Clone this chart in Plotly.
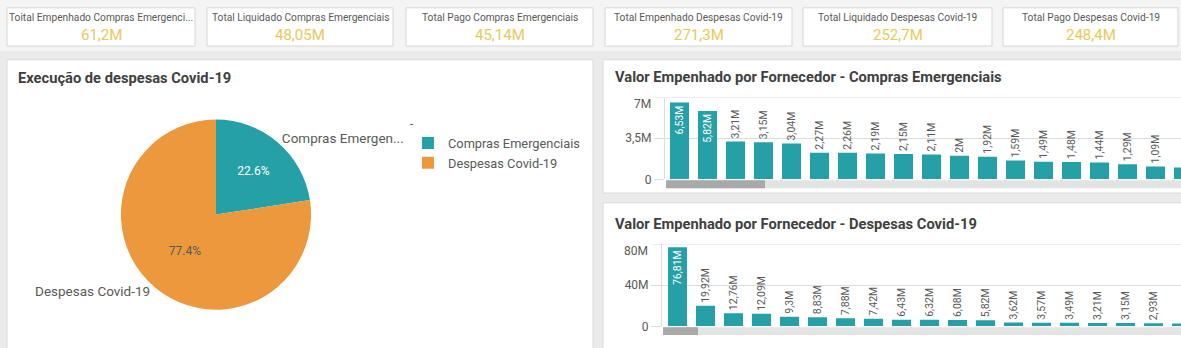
import plotly.graph_objects as go

W, H = 1181, 348

# ---- data -------------------------------------------------------------
kpi_titles = [
    "Toital Empenhado Compras Emergenci...",
    "Total Liquidado Compras Emergenciais",
    "Total Pago Compras Emergenciais",
    "Total Empenhado Despesas Covid-19",
    "Total Liquidado Despesas Covid-19",
    "Total Pago Despesas Covid-19",
]
kpi_values = ["61,2M", "48,05M", "45,14M", "271,3M", "252,7M", "248,4M"]

pie_labels = ["Compras Emergenciais", "Despesas Covid-19"]
pie_outside = ["Compras Emergen...", "Despesas Covid-19"]
pie_values = [61.2, 210.1]

# committed value per supplier (millions), ranked; the last bar of each
# chart runs off the right edge of the panel
compras_mi = [6.53, 5.82, 3.21, 3.15, 3.04, 2.27, 2.26, 2.19, 2.15, 2.11,
              2.0, 1.92, 1.59, 1.49, 1.48, 1.44, 1.29, 1.09, 1.0]
despesas_mi = [76.81, 19.92, 12.76, 12.09, 9.3, 8.83, 7.88, 7.42, 6.43, 6.32,
               6.08, 5.82, 3.62, 3.57, 3.49, 3.21, 3.15, 2.93, 2.71]
labelled_bars = 18

compras_ticks = [0, 3.5, 7]
despesas_ticks = [0, 40, 80]

# ---- style ------------------------------------------------------------
TEAL = "#26a0a7"
ORANGE = "#ec983d"
GOLD = "#e9c85e"
TXT = "#595959"
TITLE = "#404040"
GRID = "#dcdcdc"
FONT = "Roboto"


def fx(x):
    return x / W


def fy(y):
    return 1 - y / H


def fmt_m(v):
    s = f"{v:.2f}".rstrip("0").rstrip(".")
    return s.replace(".", ",") + "M"


def fmt_tick(v):
    s = f"{v:g}".replace(".", ",")
    return "0" if v == 0 else s + "M"


fig = go.Figure()
shapes = []
annotations = []

# sheet backgrounds
shapes.append(dict(type="rect", xref="paper", yref="paper", x0=0, x1=1,
                   y0=fy(52), y1=1, fillcolor="#f4f4f4", line_width=0, layer="below"))

# KPI cards
card_x = [(7, 195), (207, 393), (406, 593), (605, 792), (803, 992), (1003, 1178)]
for (x0, x1), t, v in zip(card_x, kpi_titles, kpi_values):
    shapes.append(dict(type="rect", xref="paper", yref="paper",
                       x0=fx(x0), x1=fx(x1), y0=fy(47), y1=fy(8),
                       fillcolor="white", line=dict(color="#d6d6d6", width=1), layer="below"))
    cx = fx((x0 + x1) / 2)
    annotations.append(dict(text=t, x=cx, y=fy(18), xref="paper", yref="paper",
                            showarrow=False, xanchor="center", yanchor="middle",
                            font=dict(family=FONT, size=10.2, color=TXT)))
    annotations.append(dict(text=v, x=cx, y=fy(35.5), xref="paper", yref="paper",
                            showarrow=False, xanchor="center", yanchor="middle",
                            font=dict(family=FONT, size=15, color=GOLD)))

# panels
panels = [(7, 593, 61, 360), (603, 1190, 61, 197), (603, 1190, 207, 360)]
for x0, x1, y0, y1 in panels:
    shapes.append(dict(type="rect", xref="paper", yref="paper",
                       x0=fx(x0), x1=fx(x1), y0=fy(y1), y1=fy(y0),
                       fillcolor="white", line=dict(color="#dadada", width=1), layer="below"))

titles = [
    ("Execução de despesas Covid-19", 16, 80),
    ("Valor Empenhado por Fornecedor - Compras Emergenciais", 613, 79),
    ("Valor Empenhado por Fornecedor - Despesas Covid-19", 613, 229),
]
for t, x, y in titles:
    annotations.append(dict(text=f"<b>{t}</b>", x=fx(x), y=fy(y), xref="paper", yref="paper",
                            showarrow=False, xanchor="left", yanchor="middle",
                            font=dict(family=FONT, size=14.7, color=TITLE)))

# ---- pie --------------------------------------------------------------
pie_dom = dict(x=[fx(119), fx(313)], y=[fy(316), fy(122)])
fig.add_trace(go.Pie(
    labels=pie_labels, values=pie_values, sort=False, direction="clockwise",
    rotation=0, domain=pie_dom, marker=dict(colors=[TEAL, ORANGE], line=dict(width=0)),
    texttemplate="%{percent:.1%}", textposition="inside",
    insidetextorientation="horizontal",
    textfont=dict(family=FONT, size=12, color=["white", TXT]),
    hoverinfo="label+percent", showlegend=True,
))
fig.add_trace(go.Pie(
    labels=pie_labels, values=pie_values, sort=False, direction="clockwise",
    rotation=0, domain=pie_dom,
    marker=dict(colors=["rgba(0,0,0,0)", "rgba(0,0,0,0)"], line=dict(width=0)),
    text=pie_outside, textinfo="text", textposition="outside",
    textfont=dict(family=FONT, size=13.5, color=TXT),
    hoverinfo="skip", showlegend=False,
))

# ---- bar charts -------------------------------------------------------
def bar_trace(vals_m, n_inside, xa, ya):
    vals = [v * 1e6 for v in vals_m]
    n = len(vals)
    pos = ["inside"] * n_inside + ["outside"] * (n - n_inside)
    colors = ["white"] * n_inside + [TXT] * (n - n_inside)
    text = [fmt_m(v) if i < labelled_bars else "" for i, v in enumerate(vals_m)]
    return go.Bar(
        x=list(range(n)), y=vals, text=text,
        textposition=pos, textangle=-90, insidetextanchor="end",
        constraintext="none", cliponaxis=True,
        textfont=dict(family=FONT, size=10.5, color=colors),
        marker=dict(color=TEAL, line=dict(width=0)),
        xaxis=xa, yaxis=ya, showlegend=False, hoverinfo="y",
    )


fig.add_trace(bar_trace(compras_mi, 2, "x", "y"))
fig.add_trace(bar_trace(despesas_mi, 1, "x2", "y2"))

step = 28.0
top_left, bot_left = 665, 662


def xrange(left, first_center):
    lo = -(first_center - left) / step
    return [lo, lo + (W - left) / step]


def yaxis_cfg(ticks, top, bottom):
    return dict(
        domain=[fy(bottom), fy(top)], range=[0, ticks[-1] * 1e6],
        tickvals=[t * 1e6 for t in ticks[:-1]],
        ticktext=[fmt_tick(t) for t in ticks[:-1]],
        showgrid=True, gridcolor=GRID, gridwidth=1,
        zeroline=False, showline=True, linecolor=GRID, linewidth=1,
        ticks="outside", ticklen=10, tickcolor=GRID,
        tickfont=dict(family=FONT, size=12, color=TXT), fixedrange=True,
    )


fig.update_layout(
    xaxis=dict(domain=[fx(top_left), 1], range=xrange(top_left, 679.5), anchor="y",
               showticklabels=False, showgrid=False, zeroline=False, ticks=""),
    yaxis=dict(anchor="x", **yaxis_cfg(compras_ticks, 99, 183)),
    xaxis2=dict(domain=[fx(bot_left), 1], range=xrange(bot_left, 677.5), anchor="y2",
                showticklabels=False, showgrid=False, zeroline=False, ticks=""),
    yaxis2=dict(anchor="x2", **yaxis_cfg(despesas_ticks, 249, 333)),
    bargap=0.32,
)

# top-of-axis grid lines and labels (drawn just under the top line)
for yr, ticks, left in [("y", compras_ticks, top_left), ("y2", despesas_ticks, bot_left)]:
    top_val = ticks[-1] * 1e6
    shapes.append(dict(type="line", xref="paper", yref=yr, x0=fx(left - 10), x1=1,
                       y0=top_val, y1=top_val, line=dict(color=GRID, width=1), layer="below"))
    annotations.append(dict(text=fmt_tick(ticks[-1]), xref="paper", yref=yr,
                            x=fx(left - 12), y=top_val, yshift=-7, showarrow=False,
                            xanchor="right", yanchor="middle",
                            font=dict(family=FONT, size=12, color=TXT)))

# scroll bars under each bar chart
for left, thumb_end, y0, y1 in [(666, 765, 184, 192), (663, 698, 334, 342)]:
    shapes.append(dict(type="rect", xref="paper", yref="paper", x0=fx(left), x1=1,
                       y0=fy(y1), y1=fy(y0), fillcolor="#e3e3e3", line_width=0))
    shapes.append(dict(type="rect", xref="paper", yref="paper", x0=fx(left), x1=fx(thumb_end),
                       y0=fy(y1), y1=fy(y0), fillcolor="#a9a9a9", line_width=0))

fig.update_layout(
    width=W, height=H, margin=dict(l=0, r=0, t=0, b=0),
    paper_bgcolor="#ebebeb", plot_bgcolor="rgba(0,0,0,0)",
    shapes=shapes, annotations=annotations,
    legend=dict(x=fx(408), y=fy(115), xanchor="left", yanchor="top",
                title=dict(text="-", font=dict(family=FONT, size=12, color=TXT)),
                font=dict(family=FONT, size=12.8, color=TXT),
                bgcolor="rgba(0,0,0,0)", itemclick=False, itemdoubleclick=False),
    font=dict(family=FONT, color=TXT),
)

fig.write_html("out.html", config={"displayModeBar": False})
